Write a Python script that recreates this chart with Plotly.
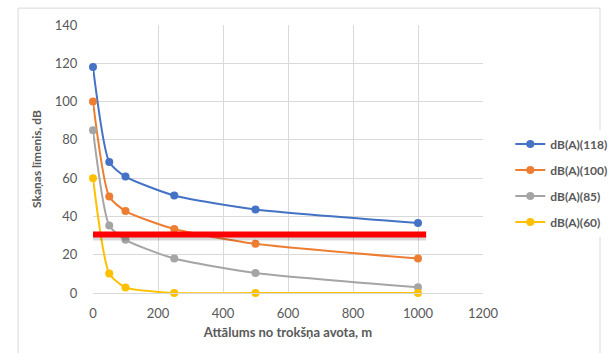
import plotly.graph_objects as go

# Distance from the noise source, m
distance = [0, 50, 100, 250, 500, 1000]

# Sound level for each source strength, dB
level_118 = [118, 68.4, 60.8, 50.9, 43.6, 36.6]
level_100 = [100, 50.4, 42.8, 33.4, 25.7, 18.0]
level_85 = [85, 35.3, 27.8, 18.0, 10.5, 3.0]
level_60 = [60, 10.2, 2.9, 0, 0, 0]

series_names = ["dB(A)(118)", "dB(A)(100)", "dB(A)(85)", "dB(A)(60)"]
series_colors = ["#4472C4", "#ED7D31", "#A5A5A5", "#FFC000"]

# Limit level marker
limit_level = 30.5
limit_span = [0, 1025]

x_ticks = [0, 200, 400, 600, 800, 1000, 1200]
y_ticks = [0, 20, 40, 60, 80, 100, 120, 140]

fig = go.Figure()

for name, values, color in zip(series_names, [level_118, level_100, level_85, level_60], series_colors):
    fig.add_trace(go.Scatter(
        x=distance, y=values, name=name, legendgroup=name, mode="lines+markers",
        line=dict(color=color, width=2, shape="spline", smoothing=0.6),
        marker=dict(color=color, size=8),
        cliponaxis=False,
    ))

# Soft shadow under the limit line
fig.add_trace(go.Scatter(
    x=limit_span, y=[limit_level - 1.2] * 2, mode="lines",
    line=dict(color="rgba(0,0,0,0.15)", width=7),
    showlegend=False, hoverinfo="skip", cliponaxis=False,
))
fig.add_trace(go.Scatter(
    x=limit_span, y=[limit_level] * 2, mode="lines",
    line=dict(color="#FF0000", width=6),
    showlegend=False, hoverinfo="skip", cliponaxis=False,
))

fig.update_layout(
    width=612, height=353,
    margin=dict(l=93, r=129, t=25, b=60, autoexpand=False),
    paper_bgcolor="white", plot_bgcolor="white",
    font=dict(family="Lato, Liberation Sans, sans-serif", color="#595959", size=13),
    showlegend=True,
    legend=dict(
        x=1.07, y=0.41, xanchor="left", yanchor="middle",
        font=dict(size=12, color="#595959", weight="bold"),
        tracegroupgap=7, itemwidth=30,
    ),
    shapes=[dict(
        type="rect", xref="paper", yref="paper",
        x0=-0.192, x1=1.3, y0=-0.27, y1=1.063,
        line=dict(color="#d9d9d9", width=1), layer="below",
    )],
)

fig.update_xaxes(
    range=[0, 1200], tickvals=x_ticks,
    showgrid=True, gridcolor="#d9d9d9", gridwidth=1,
    showline=True, linecolor="#d9d9d9", mirror=False,
    zeroline=False, ticks="outside", ticklen=8, tickcolor="rgba(0,0,0,0)",
    tickfont=dict(size=13, color="#595959"),
    title=dict(text="<b>Attālums no trokšņa avota, m</b>", font=dict(size=13, color="#595959"), standoff=8),
)
fig.update_yaxes(
    range=[0, 140], tickvals=y_ticks,
    showgrid=True, gridcolor="#d9d9d9", gridwidth=1,
    zeroline=False, ticks="outside", ticklen=12, tickcolor="rgba(0,0,0,0)",
    tickfont=dict(size=13, color="#595959"),
    title=dict(text="<b>Skaņas līmenis, dB</b>", font=dict(size=12, color="#595959"), standoff=10),
)

fig.write_html("out.html")
